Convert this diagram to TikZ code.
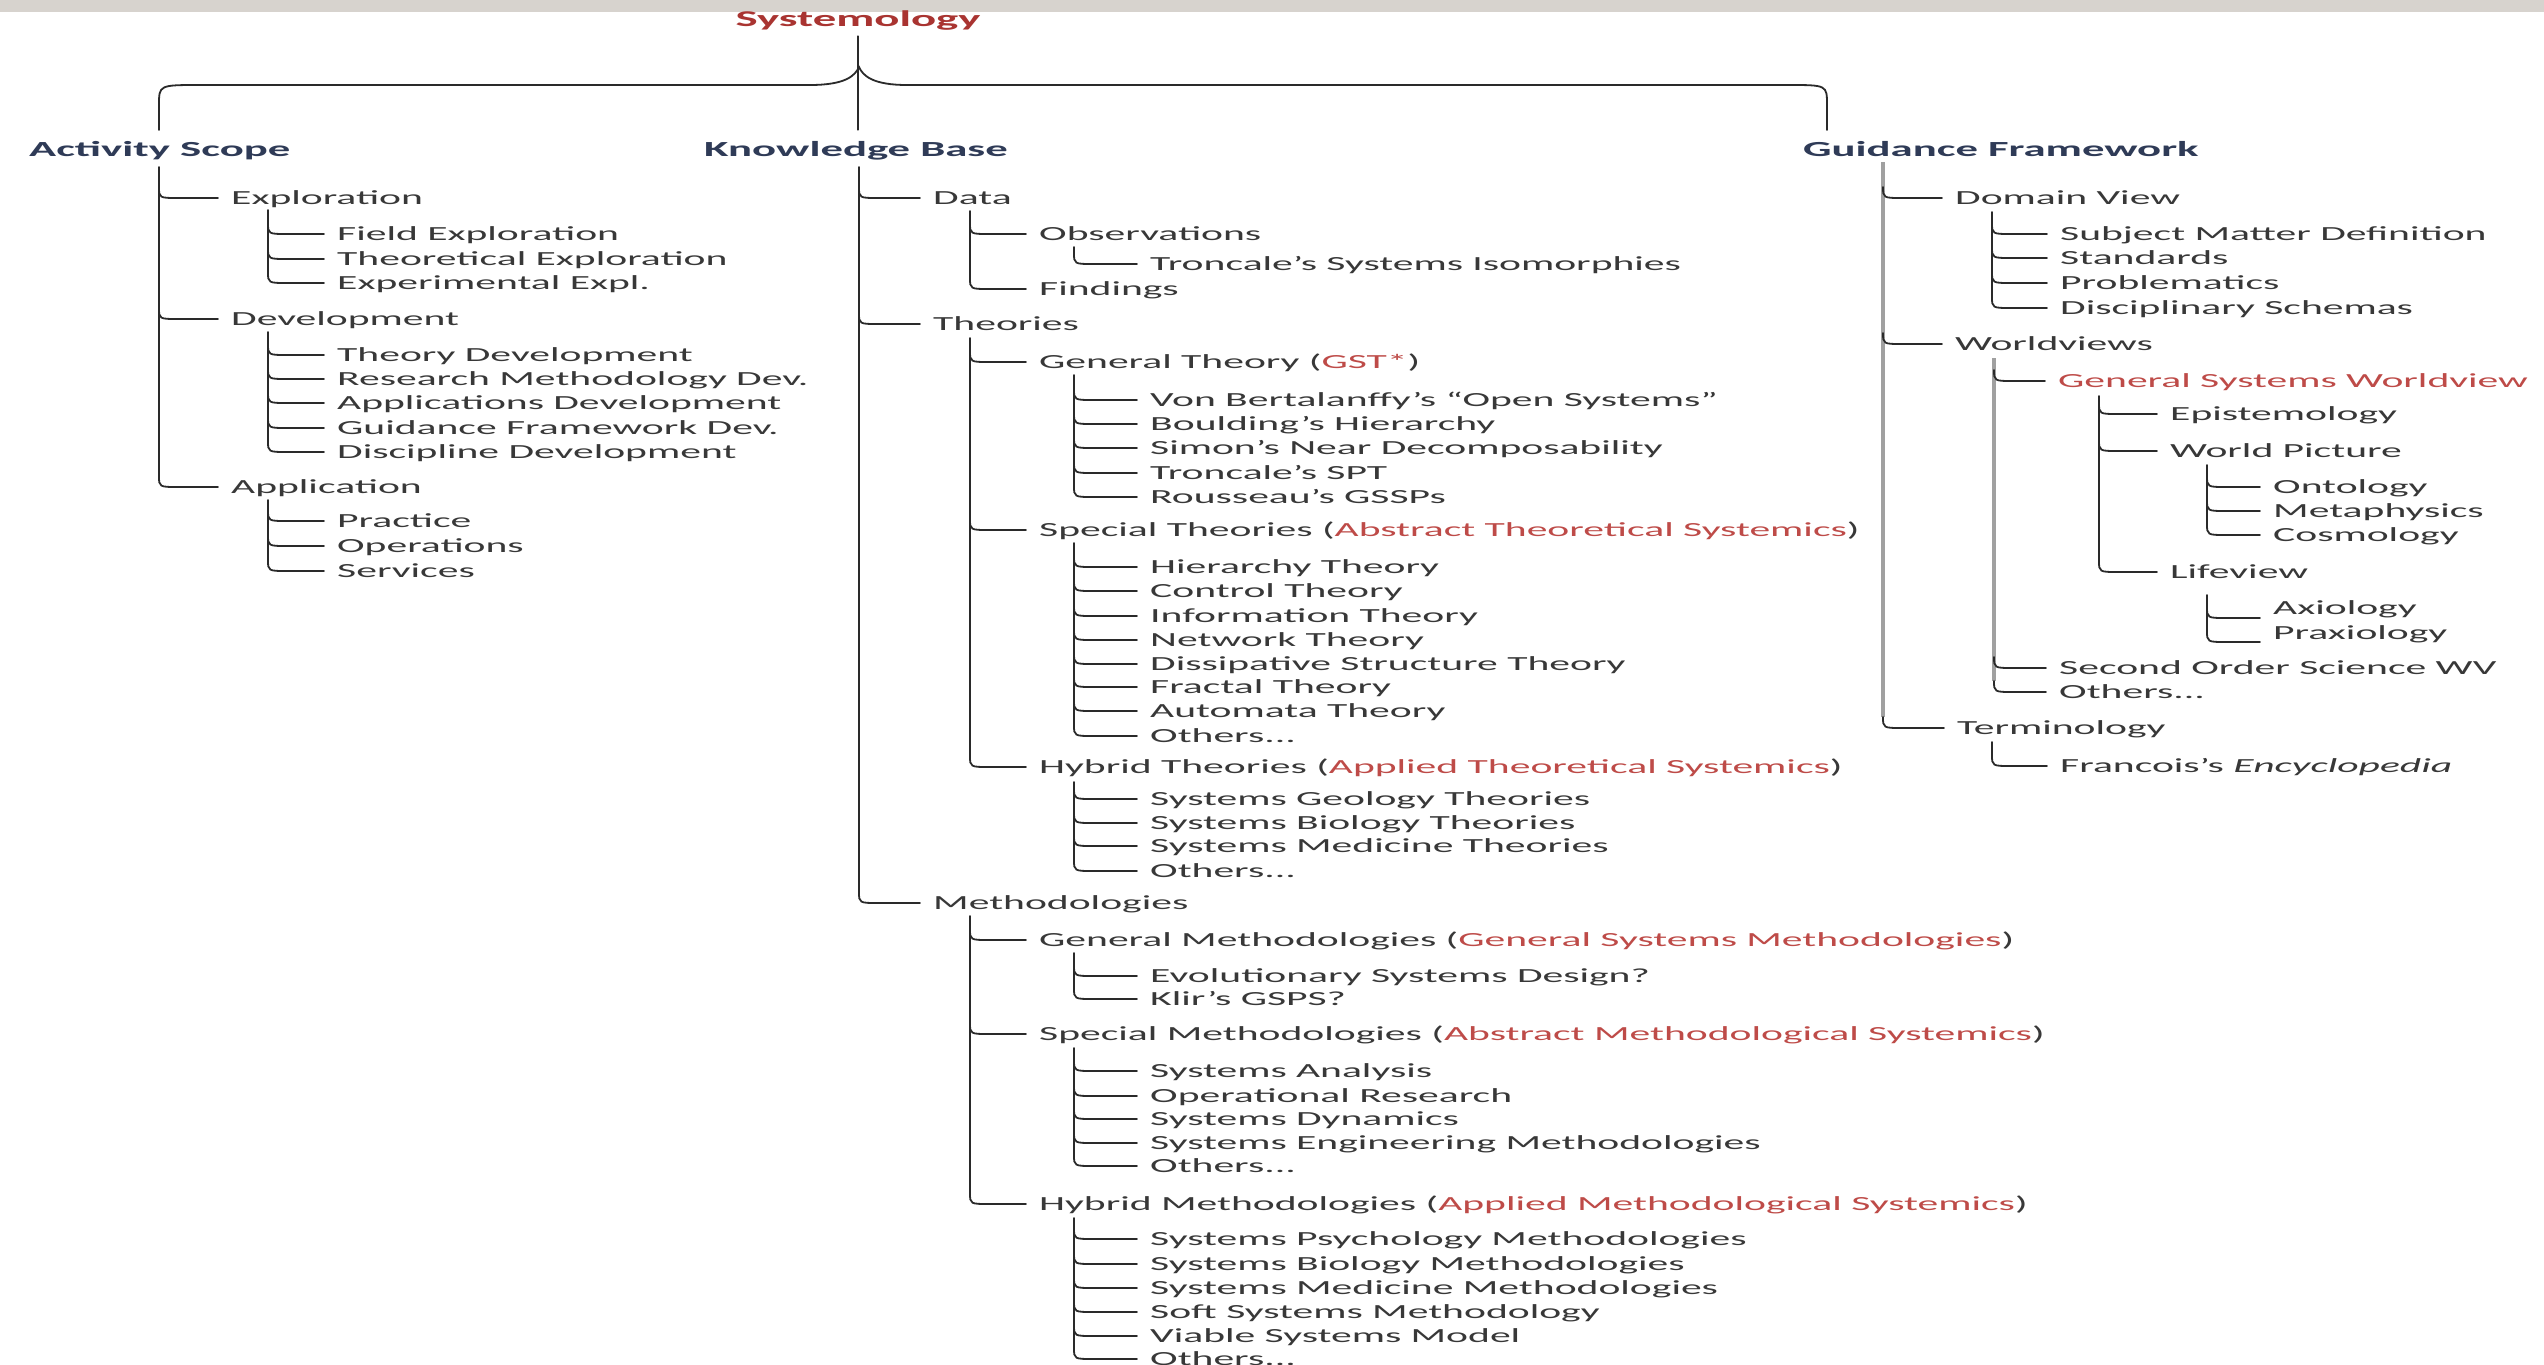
\documentclass[tikz,border=0pt]{standalone}
\usepackage{fontspec}
\setmainfont{Carlito}[FakeStretch=2.08]
\usetikzlibrary{calc}

\definecolor{ink}{HTML}{383838}
\definecolor{navy}{HTML}{2F3B57}
\definecolor{accent}{HTML}{BE4B48}
\definecolor{titlered}{HTML}{A93431}
\definecolor{wire}{HTML}{2A2A2A}
\definecolor{trunkgray}{HTML}{A0A0A0}
\definecolor{band}{HTML}{D7D3CE}

\tikzset{
  item/.style={anchor=west, inner sep=0pt, text height=13pt, text depth=0pt,
               font=\fontsize{20}{24}\selectfont, text=ink},
  header/.style={anchor=west, inner sep=0pt, text height=14pt, text depth=0pt,
               font=\fontsize{21.5}{26}\selectfont\bfseries, text=navy},
  link/.style={draw=wire, line width=1.8pt, line cap=round},
  graytrunk/.style={draw=trunkgray, line width=4.5pt},
}

% branch from a vertical trunk (#2) into a child node (#3); #1 = downward offset of the twig
\newcommand\twig[3][0]{%
  \draw[link] ($(#2 |- #3.west)+(0,#1-11)$) .. controls ($(#2 |- #3.west)+(0,#1)$)
    .. ($(#2 |- #3.west)+(20,#1)$) -- ($(#3.west)+(-13,#1)$);}
% vertical trunk from coordinate #2 down to the last child #3
\newcommand\trunk[3][link]{\draw[#1] (#2) -- ($(#2 |- #3.west)+(0,-11)$);}
\newcommand\red[1]{\textcolor{accent}{#1}}

\begin{document}
\begin{tikzpicture}[x=1pt,y=-1pt]
\useasboundingbox (0,0) rectangle (2544,1365);
\clip (0,0) rectangle (2544,1365);
\fill[white] (0,0) rectangle (2544,1365);
\fill[band] (0,0) rectangle (2544,12);

% ---------------- root and the three branches ----------------
\node[header, anchor=center, text=titlered, font=\fontsize{22.5}{27}\selectfont\bfseries] (sys) at (858,20) {Systemology};
\node[header] (as) at (29,149) {Activity Scope};
\node[header] (kb) at (704,149) {Knowledge Base};
\node[header] (gf) at (1803,149) {Guidance Framework};

\coordinate (braceL) at (159,130);
\coordinate (braceT) at (859,67);
\coordinate (braceR) at (1827,130);
\draw[link] ([yshift=-9pt]sys.south) -- ([yshift=12pt]sys.south |- kb.north);
\draw[link] (braceL) -- (159,105) .. controls (159,85) .. (200,85) -- (810,85)
  .. controls (845,85) and (855,76) .. (braceT)
  .. controls (863,76) and (873,85) .. (907,85) -- (1788,85)
  .. controls (1827,85) .. (1827,105) -- (braceR);

% ---------------- Activity Scope ----------------
\coordinate (tAS) at (159,167);
\node[item] (expl) at (231,198) {Exploration};
\node[item] (dev)  at (231,319) {Development};
\node[item] (app)  at (231,487) {Application};
\trunk{tAS}{app}
\foreach \n in {expl,dev,app} {\twig{tAS}{\n}}

\coordinate (tEx) at (268,210);
\node[item] (fe) at (337,234) {Field Exploration};
\node[item] (te) at (337,259) {Theoretical Exploration};
\node[item] (ee) at (337,283) {Experimental Expl.};
\trunk{tEx}{ee}
\foreach \n in {fe,te,ee} {\twig{tEx}{\n}}

\coordinate (tDe) at (268,332);
\node[item] (dv1) at (337,355) {Theory Development};
\node[item] (dv2) at (337,379) {Research Methodology Dev.};
\node[item] (dv3) at (337,403) {Applications Development};
\node[item] (dv4) at (337,428) {Guidance Framework Dev.};
\node[item] (dv5) at (337,452) {Discipline Development};
\trunk{tDe}{dv5}
\foreach \n in {dv1,dv2,dv3,dv4,dv5} {\twig{tDe}{\n}}

\coordinate (tAp) at (268,500);
\node[item] (ap1) at (337,521) {Practice};
\node[item] (ap2) at (337,546) {Operations};
\node[item] (ap3) at (337,571) {Services};
\trunk{tAp}{ap3}
\foreach \n in {ap1,ap2,ap3} {\twig{tAp}{\n}}

% ---------------- Knowledge Base ----------------
\coordinate (tKB) at (859,167);
\node[item] (data) at (933,198) {Data};
\node[item] (theo) at (933,324) {Theories};
\node[item] (meth) at (933,903) {Methodologies};
\trunk{tKB}{meth}
\foreach \n in {data,theo,meth} {\twig{tKB}{\n}}

\coordinate (tDa) at (970,211);
\node[item] (obs)  at (1039,234) {Observations};
\node[item] (find) at (1039,289) {Findings};
\trunk{tDa}{find}
\foreach \n in {obs,find} {\twig{tDa}{\n}}
\coordinate (tOb) at (1074,247);
\node[item] (tsi) at (1150,264) {Troncale’s Systems Isomorphies};
\trunk{tOb}{tsi}
\twig{tOb}{tsi}

\coordinate (tTh) at (970,338);
\node[item] (gt) at (1039,362) {General Theory (\red{GST*})};
\node[item] (st) at (1039,530) {Special Theories (\red{Abstract Theoretical Systemics})};
\node[item] (ht) at (1039,767) {Hybrid Theories (\red{Applied Theoretical Systemics})};
\trunk{tTh}{ht}
\foreach \n in {gt,st,ht} {\twig{tTh}{\n}}

\coordinate (tGT) at (1074,375);
\node[item] (g1) at (1150,400) {Von Bertalanffy’s “Open Systems”};
\node[item] (g2) at (1150,424) {Boulding’s Hierarchy};
\node[item] (g3) at (1150,448) {Simon’s Near Decomposability};
\node[item] (g4) at (1150,473) {Troncale’s SPT};
\node[item] (g5) at (1150,497) {Rousseau’s GSSPs};
\trunk{tGT}{g5}
\foreach \n in {g1,g2,g3,g4,g5} {\twig{tGT}{\n}}

\coordinate (tST) at (1074,543);
\node[item] (s1) at (1150,567) {Hierarchy Theory};
\node[item] (s2) at (1150,591) {Control Theory};
\node[item] (s3) at (1150,616) {Information Theory};
\node[item] (s4) at (1150,640) {Network Theory};
\node[item] (s5) at (1150,664) {Dissipative Structure Theory};
\node[item] (s6) at (1150,687) {Fractal Theory};
\node[item] (s7) at (1150,711) {Automata Theory};
\node[item] (s8) at (1150,736) {Others...};
\trunk{tST}{s8}
\foreach \n in {s1,s2,s3,s4,s5,s6,s7,s8} {\twig{tST}{\n}}

\coordinate (tHT) at (1074,782);
\node[item] (h1) at (1150,799) {Systems Geology Theories};
\node[item] (h2) at (1150,823) {Systems Biology Theories};
\node[item] (h3) at (1150,846) {Systems Medicine Theories};
\node[item] (h4) at (1150,871) {Others...};
\trunk{tHT}{h4}
\foreach \n in {h1,h2,h3,h4} {\twig{tHT}{\n}}

\coordinate (tMe) at (970,916);
\node[item] (gm) at (1039,940) {General Methodologies (\red{General Systems Methodologies})};
\node[item] (sm) at (1039,1034) {Special Methodologies (\red{Abstract Methodological Systemics})};
\node[item] (hm) at (1039,1204) {Hybrid Methodologies (\red{Applied Methodological Systemics})};
\trunk{tMe}{hm}
\foreach \n in {gm,sm,hm} {\twig{tMe}{\n}}

\coordinate (tGM) at (1074,953);
\node[item] (m1) at (1150,976) {Evolutionary Systems Design?};
\node[item] (m2) at (1150,999) {Klir’s GSPS?};
\trunk{tGM}{m2}
\foreach \n in {m1,m2} {\twig{tGM}{\n}}

\coordinate (tSM) at (1074,1048);
\node[item] (sm1) at (1150,1071) {Systems Analysis};
\node[item] (sm2) at (1150,1096) {Operational Research};
\node[item] (sm3) at (1150,1119) {Systems Dynamics};
\node[item] (sm4) at (1150,1143) {Systems Engineering Methodologies};
\node[item] (sm5) at (1150,1166) {Others...};
\trunk{tSM}{sm5}
\foreach \n in {sm1,sm2,sm3,sm4,sm5} {\twig{tSM}{\n}}

\coordinate (tHM) at (1074,1218);
\node[item] (hm1) at (1150,1239) {Systems Psychology Methodologies};
\node[item] (hm2) at (1150,1264) {Systems Biology Methodologies};
\node[item] (hm3) at (1150,1288) {Systems Medicine Methodologies};
\node[item] (hm4) at (1150,1312) {Soft Systems Methodology};
\node[item] (hm5) at (1150,1336) {Viable Systems Model};
\node[item] (hm6) at (1150,1359) {Others...};
\trunk{tHM}{hm6}
\foreach \n in {hm1,hm2,hm3,hm4,hm5,hm6} {\twig{tHM}{\n}}

% ---------------- Guidance Framework ----------------
\coordinate (tGF) at (1883,162);
\node[item] (dv)   at (1955,198) {Domain View};
\node[item] (wv)   at (1955,344) {Worldviews};
\node[item] (term) at (1957,728) {Terminology};
\trunk[graytrunk]{tGF}{term}
\foreach \n in {dv,wv,term} {\twig{tGF}{\n}}

\coordinate (tDV) at (1992,212);
\node[item] (d1) at (2060,234) {Subject Matter Definition};
\node[item] (d2) at (2060,258) {Standards};
\node[item] (d3) at (2060,283) {Problematics};
\node[item] (d4) at (2060,308) {Disciplinary Schemas};
\trunk{tDV}{d4}
\foreach \n in {d1,d2,d3,d4} {\twig{tDV}{\n}}

\coordinate (tWV) at (1994,358);
\node[item, text=accent] (gsw) at (2058,381) {General Systems Worldview};
\node[item] (sow) at (2059,668) {Second Order Science WV};
\node[item] (wvo) at (2059,692) {Others...};
\trunk[graytrunk]{tWV}{wvo}
\foreach \n in {gsw,sow,wvo} {\twig{tWV}{\n}}

\coordinate (tGS) at (2099,396);
\node[item] (epi)  at (2170,414) {Epistemology};
\node[item] (wp)   at (2170,451) {World Picture};
\node[item] (life) at (2170,572) {Lifeview};
\trunk{tGS}{life}
\foreach \n in {epi,wp,life} {\twig{tGS}{\n}}

\coordinate (tWP) at (2207,465);
\node[item] (ont) at (2273,487) {Ontology};
\node[item] (met) at (2273,511) {Metaphysics};
\node[item] (cos) at (2273,535) {Cosmology};
\trunk{tWP}{cos}
\foreach \n in {ont,met,cos} {\twig{tWP}{\n}}

\coordinate (tLV) at (2207,595);
\node[item] (axi) at (2273,608) {Axiology};
\node[item] (pra) at (2273,633) {Praxiology};
\draw[link] (tLV) -- ($(tLV |- pra.west)+(0,-2)$);
\twig[10]{tLV}{axi}
\twig[9]{tLV}{pra}

\coordinate (tTe) at (1992,742);
\node[item] (enc) at (2060,766) {Francois’s \textit{Encyclopedia}};
\trunk{tTe}{enc}
\twig{tTe}{enc}
\end{tikzpicture}
\end{document}
